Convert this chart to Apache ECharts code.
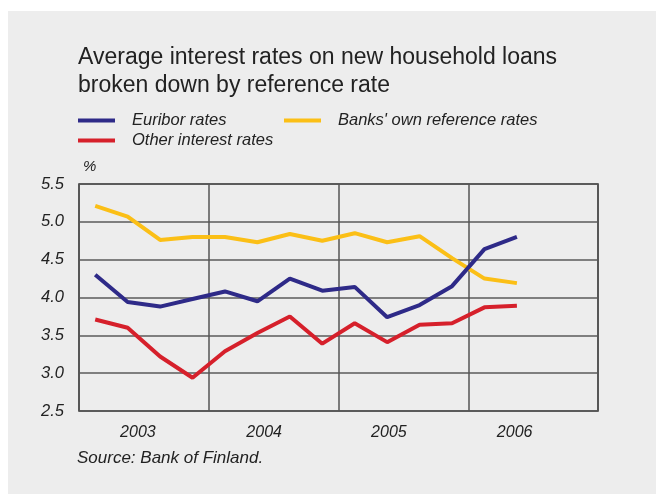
<!DOCTYPE html>
<html>
<head>
<meta charset="utf-8">
<script src="https://cdn.jsdelivr.net/npm/echarts@6/dist/echarts.min.js"></script>
<style>
  html, body { margin: 0; padding: 0; background: #ffffff; }
  #chart { width: 656px; height: 494px; }
</style>
</head>
<body>
<div id="chart"></div>
<script>
// Years shown on the axis; each year is split into four quarters
const years = ['2003', '2004', '2005', '2006'];
const quarterNames = ['Q1', 'Q2', 'Q3', 'Q4'];

// Quarterly average rates, %, 2003 Q1 – 2006 Q2
const euribor = [4.30, 3.94, 3.88, 3.98, 4.08, 3.95, 4.25, 4.09, 4.14, 3.74, 3.90, 4.15, 4.64, 4.80];
const banksOwn = [5.21, 5.07, 4.76, 4.80, 4.80, 4.73, 4.84, 4.75, 4.85, 4.73, 4.81, 4.52, 4.25, 4.19];
const otherRates = [3.71, 3.60, 3.22, 2.94, 3.29, 3.53, 3.75, 3.39, 3.66, 3.41, 3.64, 3.66, 3.87, 3.89];

// Value axis ticks
const yTicks = [2.5, 3.0, 3.5, 4.0, 4.5, 5.0, 5.5];

const quarters = [];
years.forEach(y => quarterNames.forEach(q => quarters.push(y + ' ' + q)));

const FONT = '"Liberation Sans", Arial, sans-serif';
const TEXT = '#222222';

// Year labels sit slightly left of their section centres
const yearShift = [12, 19, 29, 37];
const yearRich = {};
yearShift.forEach((p, i) => {
  yearRich['y' + i] = { fontFamily: FONT, fontSize: 16, fontStyle: 'italic', color: TEXT, padding: [0, p, 0, 0] };
});

const chart = echarts.init(document.getElementById('chart'), null, { renderer: 'canvas' });

const legendText = {
  fontFamily: FONT, fontSize: 16.5, fontStyle: 'italic', color: TEXT,
  padding: [0, 0, 0, 12]
};

chart.setOption({
  backgroundColor: '#ffffff',
  animation: false,
  title: {
    text: 'Average interest rates on new household loans\nbroken down by reference rate',
    left: 73, top: 38,
    textStyle: { fontFamily: FONT, fontSize: 23, fontWeight: 'normal', color: TEXT, lineHeight: 28.5 }
  },
  graphic: [
    { type: 'rect', z: -10, shape: { x: 8, y: 11, width: 648, height: 483 }, style: { fill: '#ededed' } },
    { type: 'text', left: 83, top: 159, style: { text: '%', fontFamily: FONT, fontSize: 15, fontStyle: 'italic', fill: TEXT } },
    { type: 'text', left: 77, top: 450, style: { text: 'Source: Bank of Finland.', fontFamily: FONT, fontSize: 17, fontStyle: 'italic', fill: TEXT } }
  ],
  legend: [
    { data: ['Euribor rates'], left: 73, top: 107, icon: 'rect', itemWidth: 37, itemHeight: 4, textStyle: legendText },
    { data: ["Banks' own reference rates"], left: 279, top: 107, icon: 'rect', itemWidth: 37, itemHeight: 4, textStyle: legendText },
    { data: ['Other interest rates'], left: 73, top: 127, icon: 'rect', itemWidth: 37, itemHeight: 4, textStyle: legendText }
  ],
  grid: {
    left: 79, right: 58, top: 184, bottom: 83,
    show: true, borderColor: '#333333', borderWidth: 1.5, backgroundColor: 'transparent'
  },
  xAxis: [
    {
      type: 'category', data: quarters, boundaryGap: true, show: false
    },
    {
      type: 'category', data: years, boundaryGap: true, position: 'bottom',
      axisLine: { show: false }, axisTick: { show: false },
      axisLabel: {
        margin: 14, rich: yearRich,
        formatter: (v, i) => '{y' + i + '|' + v + '}'
      },
      splitLine: { show: true, lineStyle: { color: '#555555', width: 1.5 } }
    }
  ],
  yAxis: {
    type: 'value', min: yTicks[0], max: yTicks[yTicks.length - 1], interval: 0.5,
    axisLine: { show: false }, axisTick: { show: false },
    axisLabel: {
      fontFamily: FONT, fontSize: 16.5, fontStyle: 'italic', color: TEXT, margin: 15,
      formatter: v => v.toFixed(1)
    },
    splitLine: { show: true, lineStyle: { color: '#5a5a5a', width: 1.5 } }
  },
  series: [
    { name: "Banks' own reference rates", type: 'line', xAxisIndex: 0, data: banksOwn, showSymbol: false, symbol: 'none',
      lineStyle: { color: '#fbbf16', width: 4 }, itemStyle: { color: '#fbbf16' } },
    { name: 'Other interest rates', type: 'line', xAxisIndex: 0, data: otherRates, showSymbol: false, symbol: 'none',
      lineStyle: { color: '#d6202b', width: 4 }, itemStyle: { color: '#d6202b' } },
    { name: 'Euribor rates', type: 'line', xAxisIndex: 0, data: euribor, showSymbol: false, symbol: 'none',
      lineStyle: { color: '#2e2a88', width: 4 }, itemStyle: { color: '#2e2a88' } }
  ]
});
</script>
</body>
</html>
